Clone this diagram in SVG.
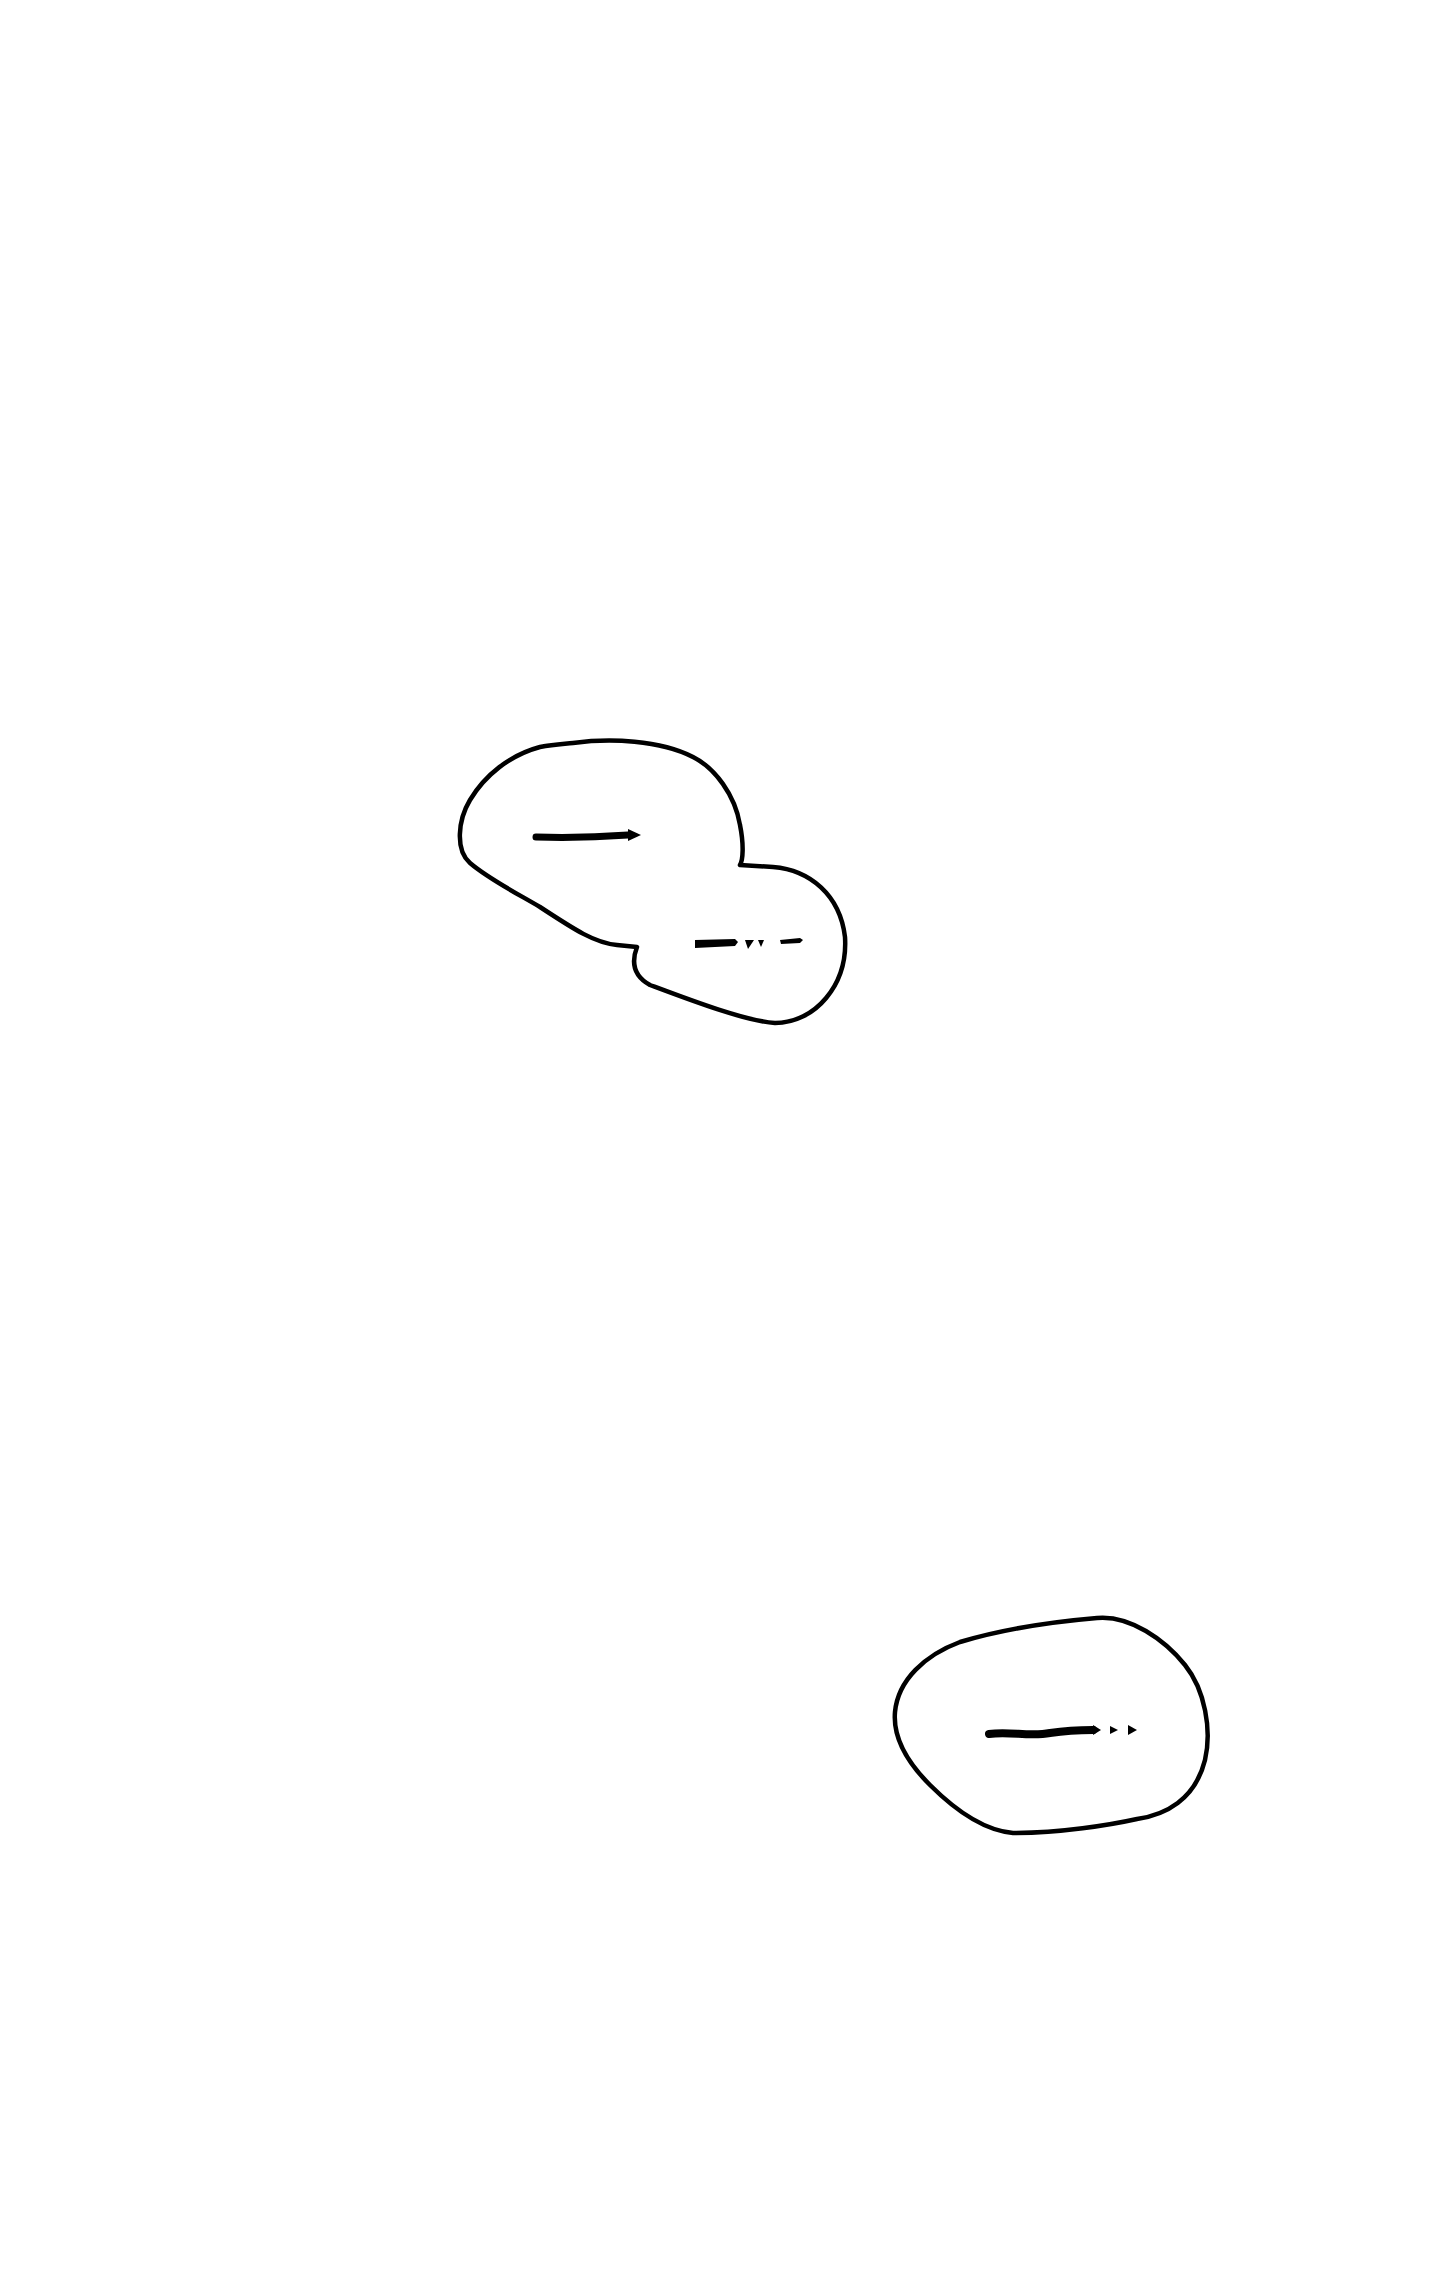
<svg xmlns="http://www.w3.org/2000/svg" width="1440" height="2287" viewBox="0 0 1440 2287">
<style>
.blob{fill:#fff;stroke:#000;stroke-width:4.5;stroke-linejoin:round}
.ln{fill:none;stroke:#000;stroke-linecap:round}
.hd{fill:#000}
</style>
<rect width="1440" height="2287" fill="#fff"/>
<g id="node-1">
<path class="blob" d="M 573 743 C 610 738, 660 740, 693 757 C 715 768, 735 795, 740 825 C 744 845, 743 860, 740 865 L 773 867 C 810 870, 840 895, 845 937 C 848 985, 815 1023, 775 1023 C 745 1021, 690 1000, 650 985 C 632 975, 632 960, 637 947 L 617 945 C 595 943, 575 930, 540 907 C 520 895, 490 880, 470 863 C 455 850, 458 820, 470 800 C 485 775, 510 755, 540 747 C 555 744, 565 744, 573 743 Z"/>
</g>
<g id="node-2">
<path class="blob" d="M 1097 1618 C 1130 1615, 1165 1640, 1185 1665 C 1205 1690, 1212 1730, 1205 1760 C 1195 1800, 1165 1815, 1137 1819 C 1110 1825, 1060 1833, 1013 1833 C 980 1830, 950 1805, 930 1785 C 905 1760, 893 1735, 895 1712 C 898 1680, 925 1655, 960 1642 C 1000 1630, 1050 1622, 1097 1618 Z"/>
</g>
<g id="connectors">
<path class="ln" stroke-width="7" d="M 536 837 C 570 838, 600 837, 628 835"/>
<polygon class="hd" points="628,829 641,835 628,841"/>
<polygon class="hd" points="695,940 735,939 738,942 735,946 695,948"/>
<polygon class="hd" points="745,940 754,940 748,949"/>
<polygon class="hd" points="758,940 764,940 761,947"/>
<polygon class="hd" points="780,940 800,938 803,940 800,943 781,944"/>
<path class="ln" stroke-width="8" d="M 989 1734 C 1010 1731, 1030 1737, 1050 1733 C 1070 1730, 1085 1730, 1093 1730"/>
<polygon class="hd" points="1093,1725 1101,1730 1093,1735"/>
<polygon class="hd" points="1110,1726 1118,1730 1110,1734"/>
<polygon class="hd" points="1128,1725 1137,1730 1128,1735"/>
</g>
</svg>
